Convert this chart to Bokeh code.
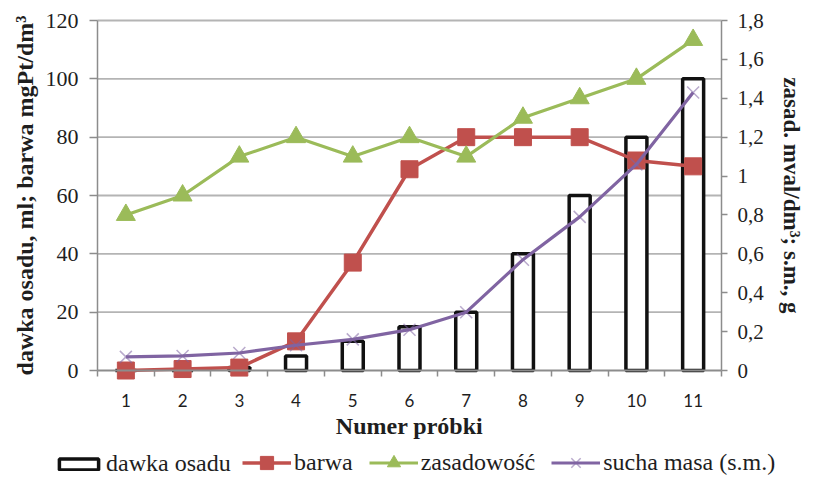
from bokeh.plotting import figure
from bokeh.models import (Range1d, LinearAxis, FixedTicker, CustomJSTickFormatter,
                          Legend, LegendItem, ColumnDataSource)
from bokeh.embed import file_html
from bokeh.resources import INLINE

# ---- data ----
samples = [1, 2, 3, 4, 5, 6, 7, 8, 9, 10, 11]
dawka_osadu = [0, 0, 1, 5, 10, 15, 20, 40, 60, 80, 100]
barwa = [0, 0.5, 1, 10, 37, 69, 80, 80, 80, 72, 70]
zasadowosc = [0.8, 0.9, 1.1, 1.2, 1.1, 1.2, 1.1, 1.3, 1.4, 1.5, 1.7]
sucha_masa = [0.07, 0.075, 0.09, 0.13, 0.16, 0.21, 0.30, 0.57, 0.79, 1.06, 1.43]
left_ticks = [0, 20, 40, 60, 80, 100, 120]
right_ticks = [0, 0.2, 0.4, 0.6, 0.8, 1, 1.2, 1.4, 1.6, 1.8]
x_title = "Numer próbki"
left_title = "dawka osadu, ml; barwa mgPt/dm³"
right_title = "zasad. mval/dm³; s.m., g"
series_names = ["dawka osadu", "barwa", "zasadowość", "sucha masa (s.m.)"]

RED = "#C0504D"
GREEN = "#9BBB59"
PURPLE = "#8064A2"
GRID = "#B4B4B4"
AXIS = "#8C8C8C"
TXT = "#1E1E1E"

# ---- layout (pixel geometry of the plotting area inside the canvas) ----
W, H = 806, 480
PX_L, PX_R, PX_T, PX_B = 97, 721, 20, 370      # plot-area edges in pixels
X0, X1 = samples[0] - 0.5, samples[-1] + 0.5   # category band edges
Y0, Y1 = left_ticks[0], left_ticks[-1]
R1 = right_ticks[-1]
xs = (X1 - X0) / (PX_R - PX_L)
ys = (Y1 - Y0) / (PX_B - PX_T)
x_range = Range1d(X0 - PX_L * xs, X1 + (W - PX_R) * xs)
y_lo = Y0 - (H - PX_B) * ys
y_hi = Y1 + PX_T * ys
y_range = Range1d(y_lo, y_hi)
r_range = Range1d(y_lo * R1 / Y1, y_hi * R1 / Y1)

src = ColumnDataSource(dict(x=samples, bars=dawka_osadu, barwa=barwa,
                            zas=zasadowosc, sm=sucha_masa))

p = figure(width=W, height=H, output_backend="svg", toolbar_location=None,
           x_range=x_range, y_range=y_range,
           x_axis_location=None, y_axis_location=None,
           min_border_left=0, min_border_right=0, min_border_top=0,
           min_border_bottom=0)
p.outline_line_color = None
p.background_fill_color = "white"
p.border_fill_color = "white"
p.extra_y_ranges = {"r": r_range}
p.grid.visible = False

# horizontal grid lines (inside plot area only)
p.segment(x0=[X0] * (len(left_ticks) - 1), x1=[X1] * (len(left_ticks) - 1),
          y0=left_ticks[1:], y1=left_ticks[1:], line_color=GRID, line_width=1.8)

# x axis
xa = LinearAxis(fixed_location=Y0, bounds=(X0, X1))
xa.ticker = FixedTicker(ticks=samples, minor_ticks=[s - 0.5 for s in samples] + [X1])
xa.major_tick_out = 0
xa.major_tick_in = 0
xa.minor_tick_out = 6
xa.minor_tick_in = 0
xa.minor_tick_line_color = AXIS
xa.minor_tick_line_width = 1.5
xa.axis_line_color = AXIS
xa.axis_line_width = 1.8
xa.major_label_text_font = "Lato"
xa.major_label_text_font_size = "17px"
xa.major_label_text_color = TXT
xa.major_label_standoff = 17
xa.axis_label = x_title
xa.axis_label_text_font = "Liberation Serif"
xa.axis_label_text_font_style = "bold"
xa.axis_label_text_font_size = "24px"
xa.axis_label_text_color = TXT
xa.axis_label_standoff = 3
p.add_layout(xa, "below")

# left axis
ya = LinearAxis(fixed_location=X0, bounds=(Y0, Y1))
ya.ticker = FixedTicker(ticks=left_ticks)
ya.major_tick_out = 8
ya.major_tick_in = 0
ya.minor_tick_out = 0
ya.minor_tick_in = 0
ya.major_tick_line_color = AXIS
ya.major_tick_line_width = 1.5
ya.axis_line_color = AXIS
ya.axis_line_width = 1.5
ya.major_label_text_font = "Liberation Serif"
ya.major_label_text_font_size = "22px"
ya.major_label_text_color = TXT
ya.major_label_standoff = 11
ya.axis_label = left_title
ya.axis_label_text_font = "Liberation Serif"
ya.axis_label_text_font_style = "bold"
ya.axis_label_text_font_size = "24px"
ya.axis_label_text_color = TXT
ya.axis_label_standoff = 5
p.add_layout(ya, "left")

# right axis
ra = LinearAxis(y_range_name="r", fixed_location=X1, bounds=(0, R1))
ra.ticker = FixedTicker(ticks=right_ticks)
ra.formatter = CustomJSTickFormatter(code="var s = (Math.round(tick*10)/10).toString(); return s.replace('.', ',');")
ra.major_tick_out = 6
ra.major_tick_in = 0
ra.minor_tick_out = 0
ra.minor_tick_in = 0
ra.major_tick_line_color = AXIS
ra.major_tick_line_width = 1.5
ra.axis_line_color = AXIS
ra.axis_line_width = 1.5
ra.major_label_text_font = "Liberation Serif"
ra.major_label_text_font_size = "21px"
ra.major_label_text_color = TXT
ra.major_label_standoff = 10
ra.axis_label = right_title
ra.axis_label_text_font = "Liberation Serif"
ra.axis_label_text_font_style = "bold"
ra.axis_label_text_font_size = "23px"
ra.axis_label_text_color = TXT
ra.axis_label_standoff = 12
p.add_layout(ra, "right")

# bars
bar_r = p.vbar(x="x", top="bars", width=0.37, source=src, fill_color="white",
               line_color="#111111", line_width=3.5)
# barwa
red_l = p.line("x", "barwa", source=src, line_color=RED, line_width=3.5)
red_s = p.scatter("x", "barwa", source=src, marker="square", size=17,
                  fill_color=RED, line_color=RED)
# zasadowosc
grn_l = p.line("x", "zas", source=src, y_range_name="r", line_color=GREEN, line_width=3.2)
grn_s = p.scatter("x", "zas", source=src, y_range_name="r", marker="triangle", size=19,
                  fill_color=GREEN, line_color=GREEN)
# sucha masa
pur_l = p.line("x", "sm", source=src, y_range_name="r", line_color=PURPLE, line_width=3.2)
pur_s = p.scatter("x", "sm", source=src, y_range_name="r", marker="x", size=17,
                  line_color=PURPLE, line_alpha=0.55, line_width=1.5)


def style_legend(lg, glyph_h):
    lg.label_text_font = "Liberation Serif"
    lg.label_text_font_size = "24px"
    lg.label_text_color = TXT
    lg.glyph_width = 49
    lg.glyph_height = glyph_h
    lg.spacing = 16
    lg.label_standoff = 3
    lg.border_line_alpha = 0
    lg.background_fill_alpha = 0
    lg.padding = 0
    lg.margin = 0


# legend for the bar series (flat outlined box)
legend_bar = Legend(items=[LegendItem(label=series_names[0], renderers=[bar_r])],
                    orientation="horizontal", location=(54, 3))
style_legend(legend_bar, 14)
p.add_layout(legend_bar, "center")

# legend for the line series (taller glyph area -> larger markers)
legend_lines = Legend(items=[
    LegendItem(label=series_names[1], renderers=[red_l, red_s]),
    LegendItem(label=series_names[2], renderers=[grn_l, grn_s]),
    LegendItem(label=series_names[3], renderers=[pur_l, pur_s]),
], orientation="horizontal", location=(242, 1))
style_legend(legend_lines, 33)
p.add_layout(legend_lines, "center")

open("out.html", "w").write(file_html(p, INLINE))
